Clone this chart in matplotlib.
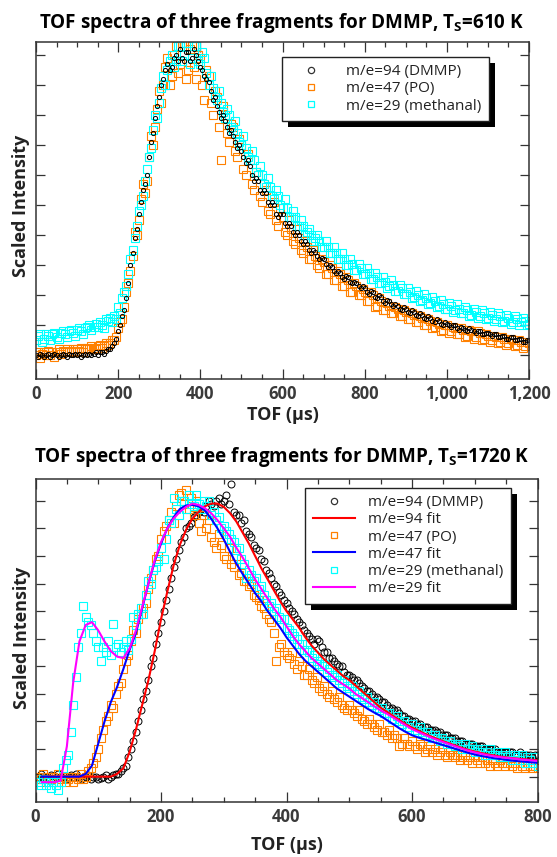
import numpy as np
import matplotlib
matplotlib.use('Agg')
import matplotlib.pyplot as plt
from matplotlib.lines import Line2D
from matplotlib.patches import Rectangle
from matplotlib.ticker import MultipleLocator, FuncFormatter

plt.rcParams['font.family'] = ['Open Sans', 'DejaVu Sans']
plt.rcParams['mathtext.fontset'] = 'custom'
plt.rcParams['mathtext.rm'] = 'Open Sans'
plt.rcParams['mathtext.bf'] = 'Open Sans:bold'

# ---- top panel, Ts = 610 K (TOF channels every 5 us, rows of 100 us) ----
tof_610 = np.arange(0, 1201, 5)
dmmp_610 = [
    0.00, -0.005, 0.005, 0.00, -0.005, 0.00, 0.005, -0.005, 0.00, 0.005, 0.00, -0.005, 0.00, 0.005, 0.00, -0.005, 0.005, 0.00, 0.00, 0.005,
    0.00, 0.005, -0.005, 0.00, 0.005, 0.00, 0.005, 0.00, 0.005, 0.01, 0.00, 0.01, 0.01, 0.005, 0.015, 0.02, 0.02, 0.03, 0.04, 0.055,
    0.08, 0.10, 0.13, 0.15, 0.19, 0.24, 0.30, 0.34, 0.39, 0.42, 0.47, 0.51, 0.55, 0.57, 0.60, 0.66, 0.71, 0.74, 0.79, 0.83,
    0.86, 0.90, 0.92, 0.95, 0.97, 0.95, 0.96, 0.99, 1.00, 0.98, 1.02, 0.99, 0.98, 1.01, 1.01, 0.98, 0.99, 1.02, 1.00, 0.98,
    0.96, 0.95, 0.93, 0.92, 0.91, 0.88, 0.85, 0.86, 0.83, 0.81, 0.79, 0.80, 0.78, 0.76, 0.74, 0.75, 0.73, 0.71, 0.69, 0.70,
    0.68, 0.66, 0.64, 0.65, 0.63, 0.60, 0.58, 0.59, 0.58, 0.55, 0.54, 0.55, 0.54, 0.51, 0.50, 0.51, 0.50, 0.47, 0.46, 0.47,
    0.47, 0.44, 0.43, 0.44, 0.43, 0.41, 0.40, 0.41, 0.40, 0.38, 0.37, 0.38, 0.37, 0.35, 0.34, 0.35, 0.345, 0.33, 0.32, 0.325,
    0.32, 0.305, 0.295, 0.30, 0.295, 0.28, 0.275, 0.28, 0.275, 0.26, 0.255, 0.265, 0.26, 0.245, 0.24, 0.245, 0.24, 0.23, 0.225, 0.23,
    0.225, 0.21, 0.205, 0.215, 0.21, 0.195, 0.19, 0.20, 0.195, 0.18, 0.175, 0.185, 0.18, 0.17, 0.165, 0.17, 0.165, 0.155, 0.15, 0.16,
    0.155, 0.145, 0.14, 0.15, 0.145, 0.135, 0.13, 0.14, 0.135, 0.125, 0.12, 0.13, 0.125, 0.115, 0.11, 0.12, 0.115, 0.105, 0.10, 0.11,
    0.105, 0.10, 0.095, 0.10, 0.10, 0.09, 0.085, 0.095, 0.09, 0.085, 0.08, 0.09, 0.085, 0.08, 0.075, 0.08, 0.08, 0.07, 0.07, 0.075,
    0.075, 0.07, 0.065, 0.07, 0.07, 0.06, 0.06, 0.065, 0.065, 0.055, 0.055, 0.06, 0.06, 0.05, 0.05, 0.055, 0.055, 0.045, 0.045, 0.05,
    0.05]
po_610 = [
    0.00, 0.01, -0.01, 0.005, 0.01, 0.00, 0.015, 0.00, 0.01, -0.005, 0.01, 0.02, 0.005, 0.015, 0.01, 0.02, 0.01, 0.015, 0.02, 0.01,
    0.02, 0.015, 0.025, 0.01, 0.02, 0.025, 0.02, 0.03, 0.025, 0.02, 0.03, 0.035, 0.025, 0.03, 0.04, 0.035, 0.04, 0.05, 0.05, 0.06,
    0.09, 0.11, 0.12, 0.16, 0.21, 0.24, 0.28, 0.33, 0.41, 0.40, 0.45, 0.52, 0.57, 0.54, 0.58, 0.66, 0.73, 0.70, 0.76, 0.82,
    0.88, 0.84, 0.90, 0.96, 0.99, 0.90, 0.93, 1.00, 1.03, 0.94, 0.97, 1.04, 1.04, 0.92, 0.95, 1.02, 1.03, 0.96, 0.92, 1.00,
    0.99, 0.90, 0.85, 0.95, 0.93, 0.84, 0.80, 0.88, 0.86, 0.76, 0.65, 0.83, 0.80, 0.74, 0.71, 0.77, 0.76, 0.68, 0.66, 0.72,
    0.70, 0.62, 0.60, 0.67, 0.65, 0.57, 0.55, 0.61, 0.60, 0.53, 0.51, 0.57, 0.55, 0.48, 0.47, 0.53, 0.51, 0.45, 0.43, 0.49,
    0.46, 0.41, 0.40, 0.45, 0.42, 0.38, 0.37, 0.42, 0.39, 0.35, 0.34, 0.38, 0.36, 0.32, 0.32, 0.35, 0.33, 0.30, 0.29, 0.32,
    0.31, 0.27, 0.27, 0.30, 0.29, 0.25, 0.25, 0.28, 0.27, 0.23, 0.23, 0.26, 0.25, 0.21, 0.21, 0.24, 0.23, 0.20, 0.20, 0.22,
    0.21, 0.18, 0.18, 0.21, 0.20, 0.16, 0.165, 0.19, 0.18, 0.15, 0.15, 0.175, 0.165, 0.14, 0.14, 0.16, 0.155, 0.13, 0.13, 0.15,
    0.145, 0.12, 0.12, 0.14, 0.135, 0.11, 0.11, 0.13, 0.125, 0.10, 0.10, 0.12, 0.115, 0.09, 0.095, 0.11, 0.105, 0.08, 0.085, 0.10,
    0.10, 0.075, 0.08, 0.095, 0.09, 0.07, 0.07, 0.09, 0.085, 0.06, 0.065, 0.085, 0.08, 0.055, 0.06, 0.08, 0.075, 0.05, 0.055, 0.07,
    0.065, 0.045, 0.05, 0.065, 0.06, 0.04, 0.045, 0.06, 0.055, 0.035, 0.04, 0.055, 0.05, 0.03, 0.035, 0.05, 0.045, 0.025, 0.03, 0.045,
    0.04]
methanal_610 = [
    0.05, 0.065, 0.07, 0.045, 0.055, 0.07, 0.065, 0.05, 0.07, 0.075, 0.06, 0.055, 0.075, 0.08, 0.07, 0.06, 0.08, 0.085, 0.075, 0.065,
    0.085, 0.09, 0.08, 0.07, 0.09, 0.095, 0.10, 0.085, 0.095, 0.105, 0.095, 0.11, 0.10, 0.09, 0.12, 0.115, 0.125, 0.11, 0.13, 0.12,
    0.16, 0.14, 0.19, 0.21, 0.23, 0.27, 0.32, 0.35, 0.39, 0.43, 0.48, 0.50, 0.53, 0.58, 0.62, 0.66, 0.69, 0.75, 0.80, 0.79,
    0.84, 0.89, 0.93, 0.90, 0.95, 0.98, 1.00, 0.96, 0.98, 1.03, 1.03, 0.98, 1.00, 1.04, 1.04, 0.97, 0.99, 1.03, 1.03, 0.98,
    0.97, 1.01, 0.99, 0.94, 0.90, 0.93, 0.89, 0.86, 0.85, 0.88, 0.84, 0.81, 0.79, 0.82, 0.80, 0.76, 0.75, 0.78, 0.74, 0.71,
    0.70, 0.73, 0.69, 0.66, 0.65, 0.68, 0.65, 0.61, 0.60, 0.63, 0.60, 0.57, 0.56, 0.59, 0.56, 0.53, 0.52, 0.55, 0.53, 0.50,
    0.49, 0.52, 0.49, 0.46, 0.46, 0.48, 0.46, 0.43, 0.43, 0.45, 0.43, 0.40, 0.41, 0.42, 0.40, 0.38, 0.39, 0.40, 0.38, 0.36,
    0.36, 0.38, 0.36, 0.34, 0.34, 0.36, 0.34, 0.32, 0.32, 0.34, 0.32, 0.30, 0.30, 0.32, 0.305, 0.285, 0.285, 0.305, 0.29, 0.27,
    0.27, 0.29, 0.275, 0.255, 0.255, 0.275, 0.26, 0.24, 0.24, 0.26, 0.245, 0.225, 0.23, 0.25, 0.235, 0.215, 0.215, 0.235, 0.225, 0.205,
    0.205, 0.225, 0.21, 0.19, 0.195, 0.215, 0.20, 0.18, 0.185, 0.205, 0.19, 0.17, 0.175, 0.195, 0.18, 0.16, 0.165, 0.185, 0.17, 0.155,
    0.155, 0.175, 0.165, 0.145, 0.15, 0.17, 0.155, 0.14, 0.14, 0.16, 0.15, 0.13, 0.135, 0.155, 0.145, 0.125, 0.13, 0.15, 0.14, 0.12,
    0.125, 0.145, 0.135, 0.115, 0.12, 0.14, 0.13, 0.11, 0.115, 0.135, 0.125, 0.105, 0.11, 0.13, 0.12, 0.10, 0.11, 0.125, 0.115, 0.10,
    0.105]

# ---- bottom panel, Ts = 1720 K (data every 4 us, rows of 100 us; fits every 10 us) ----
tof_1720 = np.arange(4, 801, 4)
dmmp_1720 = [
    0.00, 0.01, 0.00, -0.01, 0.00, 0.005, -0.01, 0.00, 0.01, 0.00, -0.005, -0.01, 0.00, 0.005, 0.00, 0.01, 0.00, -0.01, -0.005, 0.00, 0.005, -0.01, 0.00, 0.00, -0.01,
    -0.005, 0.00, 0.005, -0.01, 0.00, 0.005, 0.01, 0.01, 0.02, 0.03, 0.04, 0.07, 0.10, 0.13, 0.16, 0.20, 0.24, 0.28, 0.31, 0.35, 0.40, 0.43, 0.48, 0.52, 0.56,
    0.60, 0.64, 0.68, 0.72, 0.76, 0.79, 0.82, 0.85, 0.87, 0.90, 0.91, 0.92, 0.94, 0.95, 0.96, 0.97, 0.96, 0.98, 1.00, 0.99, 0.98, 1.00, 1.01, 0.99, 1.00,
    1.02, 0.99, 1.06, 0.96, 0.95, 0.95, 0.92, 0.93, 0.89, 0.88, 0.87, 0.84, 0.83, 0.82, 0.79, 0.78, 0.75, 0.74, 0.72, 0.70, 0.69, 0.67, 0.66, 0.64, 0.63,
    0.61, 0.60, 0.59, 0.57, 0.56, 0.55, 0.53, 0.52, 0.51, 0.50, 0.48, 0.50, 0.49, 0.47, 0.45, 0.45, 0.43, 0.43, 0.42, 0.41, 0.40, 0.40, 0.38, 0.37, 0.37,
    0.36, 0.35, 0.35, 0.34, 0.33, 0.32, 0.31, 0.31, 0.30, 0.29, 0.29, 0.28, 0.27, 0.27, 0.26, 0.25, 0.25, 0.24, 0.24, 0.23, 0.22, 0.22, 0.21, 0.21, 0.20,
    0.20, 0.19, 0.19, 0.18, 0.18, 0.18, 0.17, 0.17, 0.17, 0.16, 0.16, 0.15, 0.15, 0.15, 0.14, 0.14, 0.14, 0.13, 0.13, 0.13, 0.12, 0.12, 0.12, 0.12, 0.11,
    0.11, 0.11, 0.11, 0.10, 0.10, 0.10, 0.10, 0.10, 0.09, 0.09, 0.09, 0.09, 0.09, 0.09, 0.09, 0.08, 0.08, 0.09, 0.08, 0.08, 0.08, 0.08, 0.07, 0.08, 0.08]
po_1720 = [
    0.00, -0.01, 0.01, -0.02, 0.00, -0.01, 0.00, -0.02, 0.01, -0.01, 0.00, -0.02, -0.01, 0.00, -0.02, 0.00, -0.01, 0.01, -0.01, 0.00, 0.02, 0.03, 0.05, 0.07, 0.10,
    0.14, 0.17, 0.20, 0.22, 0.26, 0.25, 0.30, 0.33, 0.34, 0.39, 0.42, 0.44, 0.49, 0.53, 0.52, 0.57, 0.59, 0.61, 0.63, 0.68, 0.72, 0.75, 0.79, 0.80, 0.86,
    0.89, 0.91, 0.93, 0.96, 0.92, 0.98, 1.02, 1.03, 0.99, 1.04, 0.97, 1.01, 0.95, 1.00, 0.92, 0.89, 0.95, 0.90, 0.93, 0.87, 0.85, 0.83, 0.88, 0.84, 0.80,
    0.79, 0.83, 0.77, 0.76, 0.80, 0.73, 0.74, 0.71, 0.71, 0.69, 0.70, 0.66, 0.65, 0.64, 0.62, 0.61, 0.59, 0.57, 0.56, 0.52, 0.42, 0.47, 0.48, 0.45, 0.44,
    0.43, 0.45, 0.41, 0.39, 0.42, 0.40, 0.37, 0.37, 0.39, 0.35, 0.34, 0.36, 0.32, 0.31, 0.33, 0.30, 0.29, 0.31, 0.28, 0.27, 0.29, 0.26, 0.25, 0.24, 0.26,
    0.24, 0.23, 0.22, 0.24, 0.21, 0.20, 0.19, 0.21, 0.19, 0.18, 0.17, 0.19, 0.16, 0.16, 0.15, 0.17, 0.14, 0.15, 0.14, 0.11, 0.12, 0.14, 0.12, 0.11, 0.13,
    0.11, 0.10, 0.12, 0.11, 0.09, 0.10, 0.11, 0.09, 0.10, 0.08, 0.09, 0.10, 0.08, 0.07, 0.09, 0.08, 0.07, 0.08, 0.06, 0.07, 0.08, 0.06, 0.07, 0.05, 0.07,
    0.06, 0.05, 0.07, 0.05, 0.06, 0.04, 0.06, 0.05, 0.04, 0.06, 0.05, 0.04, 0.05, 0.06, 0.04, 0.05, 0.03, 0.05, 0.04, 0.03, 0.05, 0.04, 0.03, 0.04, 0.03]
methanal_1720 = [
    -0.02, -0.03, -0.01, -0.03, -0.02, -0.04, -0.02, -0.03, -0.05, -0.02, 0.03, 0.06, 0.08, 0.16, 0.26, 0.36, 0.47, 0.52, 0.62, 0.58, 0.56, 0.55, 0.52, 0.49, 0.47,
    0.42, 0.47, 0.45, 0.49, 0.44, 0.555, 0.47, 0.48, 0.45, 0.47, 0.49, 0.46, 0.50, 0.58, 0.55, 0.59, 0.61, 0.59, 0.66, 0.71, 0.70, 0.75, 0.76, 0.78, 0.83,
    0.79, 0.86, 0.93, 0.92, 1.01, 0.97, 0.95, 1.00, 1.00, 0.97, 1.02, 0.99, 0.98, 1.02, 0.99, 0.97, 1.00, 0.98, 1.00, 0.95, 0.96, 0.93, 0.94, 0.90, 0.91,
    0.89, 0.88, 0.86, 0.85, 0.82, 0.83, 0.79, 0.77, 0.72, 0.75, 0.73, 0.71, 0.72, 0.68, 0.69, 0.66, 0.64, 0.62, 0.63, 0.60, 0.61, 0.58, 0.57, 0.57, 0.54,
    0.53, 0.52, 0.51, 0.50, 0.48, 0.48, 0.46, 0.46, 0.45, 0.43, 0.44, 0.42, 0.41, 0.40, 0.41, 0.38, 0.39, 0.37, 0.36, 0.37, 0.35, 0.34, 0.35, 0.33, 0.32,
    0.33, 0.31, 0.30, 0.31, 0.29, 0.28, 0.29, 0.27, 0.26, 0.27, 0.25, 0.24, 0.25, 0.23, 0.23, 0.23, 0.21, 0.21, 0.22, 0.20, 0.19, 0.20, 0.18, 0.18, 0.19,
    0.17, 0.17, 0.18, 0.16, 0.15, 0.16, 0.15, 0.14, 0.15, 0.14, 0.13, 0.14, 0.13, 0.12, 0.13, 0.12, 0.11, 0.12, 0.11, 0.10, 0.12, 0.10, 0.10, 0.11, 0.09,
    0.10, 0.09, 0.10, 0.08, 0.09, 0.10, 0.08, 0.08, 0.09, 0.07, 0.08, 0.09, 0.07, 0.08, 0.06, 0.08, 0.07, 0.06, 0.08, 0.05, 0.07, 0.06, 0.05, 0.07, 0.04]

tof_fit = np.arange(10, 801, 10)
fit_94 = [0, 0, 0, 0, 0, 0, 0, 0, 0, 0,
          0.0, 0.0, 0.01, 0.03, 0.09, 0.17, 0.26, 0.35, 0.455, 0.57,
          0.67, 0.765, 0.84, 0.895, 0.935, 0.96, 0.98, 0.99, 0.99, 0.978,
          0.955, 0.925, 0.885, 0.845, 0.80, 0.755, 0.715, 0.675, 0.635, 0.60,
          0.57, 0.54, 0.505, 0.475, 0.45, 0.425, 0.405, 0.385, 0.365, 0.35,
          0.33, 0.31, 0.29, 0.27, 0.25, 0.235, 0.22, 0.205, 0.19, 0.178,
          0.167, 0.156, 0.146, 0.137, 0.128, 0.12, 0.112, 0.104, 0.097, 0.091,
          0.086, 0.081, 0.077, 0.073, 0.07, 0.067, 0.065, 0.063, 0.061, 0.06]
fit_47 = [0.0, 0.0, 0.0, 0.0, 0.0, 0.0, 0.0, 0.01, 0.04, 0.12,
          0.20, 0.27, 0.325, 0.39, 0.46, 0.52, 0.61, 0.70, 0.78, 0.845,
          0.90, 0.94, 0.97, 0.983, 0.985, 0.98, 0.965, 0.935, 0.90, 0.86,
          0.815, 0.772, 0.735, 0.70, 0.665, 0.635, 0.60, 0.57, 0.54, 0.505,
          0.475, 0.445, 0.42, 0.40, 0.38, 0.36, 0.34, 0.32, 0.305, 0.29,
          0.275, 0.26, 0.245, 0.232, 0.22, 0.205, 0.19, 0.175, 0.162, 0.15,
          0.142, 0.135, 0.128, 0.121, 0.114, 0.107, 0.10, 0.093, 0.086, 0.08,
          0.075, 0.071, 0.067, 0.064, 0.061, 0.058, 0.056, 0.054, 0.052, 0.05]
fit_29 = [-0.02, -0.02, -0.02, -0.015, 0.11, 0.34, 0.49, 0.55, 0.56, 0.53,
          0.49, 0.455, 0.435, 0.43, 0.465, 0.53, 0.615, 0.70, 0.785, 0.85,
          0.90, 0.935, 0.96, 0.978, 0.99, 0.985, 0.973, 0.955, 0.93, 0.90,
          0.87, 0.83, 0.795, 0.755, 0.715, 0.68, 0.645, 0.61, 0.58, 0.545,
          0.51, 0.48, 0.455, 0.43, 0.41, 0.39, 0.37, 0.35, 0.335, 0.32,
          0.30, 0.285, 0.27, 0.255, 0.24, 0.228, 0.214, 0.20, 0.186, 0.172,
          0.162, 0.152, 0.142, 0.133, 0.125, 0.117, 0.109, 0.101, 0.094, 0.088,
          0.083, 0.078, 0.074, 0.071, 0.068, 0.066, 0.063, 0.061, 0.059, 0.057]

ORANGE = '#ff8000'
CYAN = '#00ffff'

W, H = 557, 857
fig = plt.figure(figsize=(W / 100, H / 100), dpi=100)


def px_axes(l, t, r, b):
    return [l / W, 1 - b / H, (r - l) / W, (b - t) / H]


ax1 = fig.add_axes(px_axes(36, 41.7, 529, 379))
ax2 = fig.add_axes(px_axes(35.5, 479, 537.5, 802))


def style(ax, xmax, ylo, yhi):
    ax.set_xlim(0, xmax)
    ax.set_ylim(ylo, yhi)
    ax.xaxis.set_major_locator(MultipleLocator(200))
    ax.xaxis.set_minor_locator(MultipleLocator(50))
    ax.yaxis.set_major_locator(MultipleLocator(0.1))
    ax.xaxis.set_major_formatter(FuncFormatter(lambda v, p: f'{v:,.0f}'))
    ax.tick_params(which='both', direction='in', top=True, right=True,
                   color='#333333', width=0.9)
    ax.tick_params(which='major', length=7)
    ax.tick_params(which='minor', length=3.5)
    ax.tick_params(axis='y', labelleft=False, length=6.5)
    ax.tick_params(axis='x', which='major', labelsize=12, labelcolor='#3a3a3a', pad=4)
    for lab in ax.get_xticklabels():
        lab.set_fontweight('bold')
    for s in ax.spines.values():
        s.set_color('#333333')
        s.set_linewidth(1.1)


# top panel
ax1.plot(tof_610, po_610, ls='none', marker='s', ms=5.5, mfc='none', mec=ORANGE, mew=0.8)
ax1.plot(tof_610, methanal_610, ls='none', marker='s', ms=5.5, mfc='none', mec=CYAN, mew=0.8)
ax1.plot(tof_610, dmmp_610, ls='none', marker='o', ms=3.0, mfc='none', mec='black', mew=0.7)
style(ax1, 1200, -0.08, 1.045)

# bottom panel
ax2.plot(tof_1720, dmmp_1720, ls='none', marker='o', ms=5, mfc='none', mec='black', mew=0.7)
ax2.plot(tof_1720, po_1720, ls='none', marker='s', ms=5.2, mfc='none', mec=ORANGE, mew=0.8)
ax2.plot(tof_1720, methanal_1720, ls='none', marker='s', ms=5.2, mfc='none', mec=CYAN, mew=0.8)
ax2.plot(tof_fit, fit_94, color='red', lw=1.5)
ax2.plot(tof_fit, fit_47, color='blue', lw=1.5)
ax2.plot(tof_fit, fit_29, color='magenta', lw=1.5)
style(ax2, 800, -0.092, 1.079)

h_dmmp = Line2D([], [], ls='none', marker='o', ms=4.5, mfc='none', mec='#333333', mew=0.9)
h_po = Line2D([], [], ls='none', marker='s', ms=4.5, mfc='none', mec=ORANGE, mew=0.9)
h_me = Line2D([], [], ls='none', marker='s', ms=4.5, mfc='none', mec=CYAN, mew=0.9)
h_f94 = Line2D([], [], color='red', lw=1.5)
h_f47 = Line2D([], [], color='blue', lw=1.5)
h_f29 = Line2D([], [], color='magenta', lw=1.5)

leg_kw = dict(loc='upper left', borderaxespad=0, frameon=True, fancybox=False,
              edgecolor='#222222', framealpha=1, prop={'size': 11},
              handlelength=2.8, handletextpad=0.85, borderpad=0.5, labelspacing=0.14)
leg1 = ax1.legend([h_dmmp, h_po, h_me],
                  ['m/e=94 (DMMP)', 'm/e=47 (PO)', 'm/e=29 (methanal)'],
                  bbox_to_anchor=(0.4996, 0.9555), **leg_kw)
leg2 = ax2.legend([h_dmmp, h_f94, h_po, h_f47, h_me, h_f29],
                  ['m/e=94 (DMMP)', 'm/e=94 fit', 'm/e=47 (PO)', 'm/e=47 fit',
                   'm/e=29 (methanal)', 'm/e=29 fit'],
                  bbox_to_anchor=(0.537, 0.973), **leg_kw)
for leg in (leg1, leg2):
    leg.get_frame().set_linewidth(1.0)
    for t in leg.get_texts():
        t.set_color('#222222')

# titles and axis labels
fig.text(281.5 / W, 1 - 28.4 / H, 'TOF spectra of three fragments for DMMP, T$_\\mathbf{S}$=610 K',
         ha='center', va='baseline', fontsize=13.6, fontweight='bold')
fig.text(281.5 / W, 1 - 462 / H, 'TOF spectra of three fragments for DMMP, T$_\\mathbf{S}$=1720 K',
         ha='center', va='baseline', fontsize=13.6, fontweight='bold')
fig.text(282.5 / W, 1 - 420 / H, 'TOF (µs)', ha='center', va='baseline',
         fontsize=13, fontweight='bold', color='#222222')
fig.text(286.5 / W, 1 - 850 / H, 'TOF (µs)', ha='center', va='baseline',
         fontsize=13, fontweight='bold', color='#222222')
fig.text(21 / W, 1 - 206 / H, 'Scaled Intensity', rotation=90, ha='center', va='center',
         fontsize=13, fontweight='bold', color='#222222')
fig.text(22.5 / W, 1 - 638 / H, 'Scaled Intensity', rotation=90, ha='center', va='center',
         fontsize=13, fontweight='bold', color='#222222')

# solid black drop shadow behind each legend box
fig.canvas.draw()
renderer = fig.canvas.get_renderer()
for ax, leg in ((ax1, leg1), (ax2, leg2)):
    bb = leg.get_frame().get_window_extent(renderer)
    inv = ax.transAxes.inverted()
    (x0, y0) = inv.transform((bb.x0 + 6, bb.y0 - 6))
    (x1, y1) = inv.transform((bb.x1 + 6, bb.y1 - 6))
    ax.add_patch(Rectangle((x0, y0), x1 - x0, y1 - y0, transform=ax.transAxes,
                           facecolor='black', edgecolor='none', zorder=4.9, clip_on=False))

fig.savefig('out.png', dpi=100)
